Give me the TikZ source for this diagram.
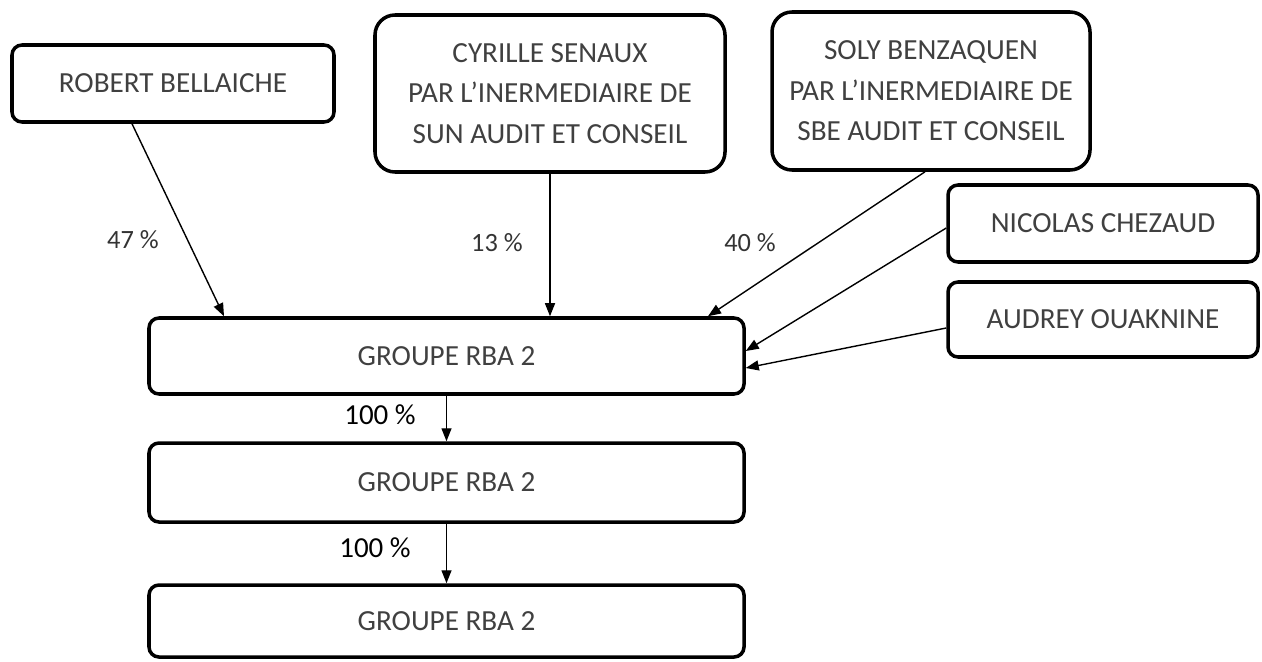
\documentclass[tikz,border=0pt]{standalone}
\usepackage{fontspec}
\setmainfont{Carlito}
\usetikzlibrary{arrows.meta}

\tikzset{
    box/.style={draw, rectangle, rounded corners=0.2cm, line width=2pt, align=center, text=black!75, font=\fontsize{16.6}{23}\selectfont},
    pct/.style={text=black!80, font=\fontsize{15}{17}\selectfont},
    link/.style={-{Triangle[length=0.26cm, width=0.2cm]}, line width=0.8pt}
}

\begin{document}
\begin{tikzpicture}
    \useasboundingbox (0,0) rectangle (25.24,-13.22);

    % Shareholder Nodes
    \node (robert) [box, minimum width=6.44cm, minimum height=1.54cm] at (3.46,-1.67) {ROBERT BELLAICHE};
    \node (cyrille) [box, rounded corners=0.4cm, minimum width=7cm, minimum height=3.14cm] at (11,-1.87) {CYRILLE SENAUX\\PAR L'INERMEDIAIRE DE\\SUN AUDIT ET CONSEIL};
    \node (soly) [box, rounded corners=0.4cm, minimum width=6.36cm, minimum height=3.16cm] at (18.62,-1.82) {SOLY BENZAQUEN\\PAR L'INERMEDIAIRE DE\\SBE AUDIT ET CONSEIL};
    \node (nicolas) [box, minimum width=6.2cm, minimum height=1.54cm] at (22.06,-4.47) {NICOLAS CHEZAUD};
    \node (audrey) [box, minimum width=6.2cm, minimum height=1.5cm] at (22.06,-6.39) {AUDREY OUAKNINE};

    % Groupe Nodes
    \node (groupe1) [box, minimum width=11.9cm, minimum height=1.52cm] at (8.93,-7.12) {GROUPE RBA 2};
    \node (groupe2) [box, minimum width=11.9cm, minimum height=1.58cm] at (8.93,-9.65) {GROUPE RBA 2};
    \node (groupe3) [box, minimum width=11.9cm, minimum height=1.44cm] at (8.93,-12.42) {GROUPE RBA 2};

    % Percentages
    \node (p47) [pct] at (2.66,-4.8) {47 \%};
    \node (p13) [pct] at (9.94,-4.86) {13 \%};
    \node (p40) [pct] at (15.0,-4.86) {40 \%};
    \node (p100a) [pct, text=black, font=\fontsize{16.5}{18}\selectfont] at (7.6,-8.3) {100 \%};
    \node (p100b) [pct, text=black, font=\fontsize{16.5}{18}\selectfont] at (7.5,-10.96) {100 \%};

    % Arrows
    \draw[link] ([xshift=-0.82cm]robert.south) -- ([xshift=-4.45cm]groupe1.north);
    \draw[link] (cyrille.south) -- ([xshift=2.07cm]groupe1.north);
    \draw[link] ([xshift=-0.12cm]soly.south) -- ([xshift=5.23cm]groupe1.north);
    \draw[link] ([yshift=-0.09cm]nicolas.west) -- ([yshift=0.1cm]groupe1.east);
    \draw[link] ([yshift=-0.17cm]audrey.west) -- ([yshift=-0.24cm]groupe1.east);

    \draw[link] (groupe1) -- (groupe2);
    \draw[link] (groupe2) -- (groupe3);
\end{tikzpicture}
\end{document}
